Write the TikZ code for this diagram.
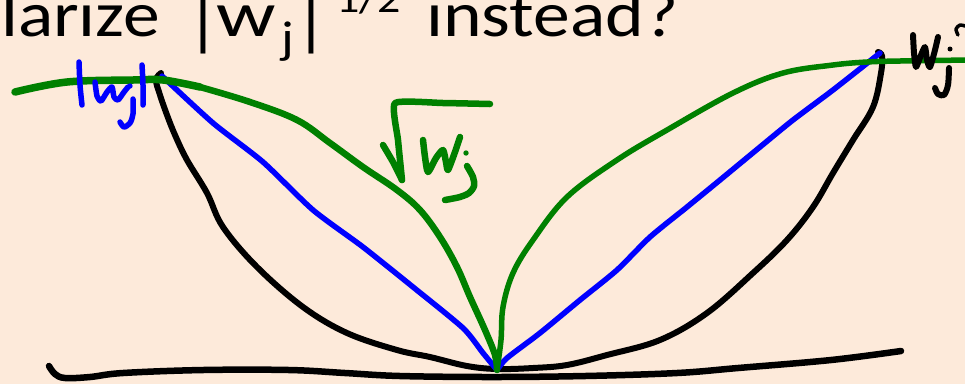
\documentclass[tikz,border=0pt]{standalone}
\usepackage{fontspec}
\setmainfont{Carlito}
\definecolor{bg}{RGB}{253,234,218}
\definecolor{pgreen}{RGB}{0,128,0}
\definecolor{pblue}{RGB}{0,0,255}
\begin{document}
\begin{tikzpicture}[x=1pt,y=-1pt,
  ink/.style={line cap=round,line join=round},
  title/.style={anchor=base west,inner sep=0pt,font=\fontsize{64}{70}\selectfont},
  small/.style={anchor=base west,inner sep=0pt,font=\fontsize{#1}{#1}\selectfont},
  blk/.style={ink,draw=black,line width=6pt},
  blu/.style={ink,draw=pblue,line width=5.5pt},
  grn/.style={ink,draw=pgreen,line width=6.5pt}]
\useasboundingbox (0,0) rectangle (965,384);
\fill[bg] (0,0) rectangle (965,384);
\clip (0,0) rectangle (965,384);
% title (cut at the top)
\node[title] (t1) at (1,36) {\scalebox{1.15}[1]{larize}};
\node[title] (t2) at (203,43) {\hbox to 0pt{\hss\scalebox{1.15}[1]{|}\hss}};
\node[title] (t3) at (216,36) {\scalebox{1.3}[1]{w}};
\node[small=46] (t4) at (281,53) {\scalebox{1.15}[1]{j}};
\node[title] (t5) at (311,43) {\hbox to 0pt{\hss\scalebox{1.15}[1]{|}\hss}};
\node[small=40] (t6) at (336,12) {\scalebox{1.15}[1]{1/2}};
\node[title] (t7) at (426,36) {\scalebox{1.15}[1]{instead?}};
% bottom axis line
\draw[blk,line width=6.5pt] plot[smooth,tension=0.6] coordinates {(49,366) (55,374) (65,378) (90,377) (123,373) (203,370) (289,370) (345,373) (400,376) (492,377) (585,376) (677,373) (738,368) (831,360) (901,351)};
% black w^2 curve
\draw[blk] plot[smooth,tension=0.6] coordinates {(161,73) (156,80) (160,95) (167,115) (175,135) (187,160) (207,193) (223,227) (257,267) (303,307) (347,333) (397,350) (430,357) (467,366) (497,369) (533,368) (567,365) (607,355) (660,340) (707,313) (753,273) (787,240) (813,207) (833,173) (853,140) (873,107) (881,73) (882,56) (878,52)};
% blue |w| lines
\draw[blu] plot[smooth,tension=0.4] coordinates {(162,76) (213,123) (263,162) (313,210) (363,247) (413,287) (463,328) (483,353) (497,370)};
\draw[blu] plot[smooth,tension=0.4] coordinates {(497,370) (507,358) (540,333) (580,300) (617,270) (650,237) (687,207) (720,180) (760,147) (793,120) (833,90) (880,53)};
% green sqrt curves
\draw[grn,line width=7.5pt] plot[smooth,tension=0.6] coordinates {(15,92) (67,82) (133,80) (163,80) (200,87)};
\draw[grn] plot[smooth,tension=0.6] coordinates {(200,87) (250,102) (297,120) (330,143) (363,167) (397,190) (420,210) (440,237) (457,267) (470,297) (485,330) (495,355) (497,370)};
\draw[grn,line width=5.5pt] plot[smooth,tension=0.6] coordinates {(497,370) (501,340) (503,307) (513,273) (533,240) (567,197) (617,160) (667,130) (733,93) (783,73) (833,65) (867,62) (900,61) (970,60)};
% label |w_j| (blue)
\draw[blu] plot[smooth] coordinates {(79,62) (80,85) (82,105)};
\draw[blu] plot[smooth,tension=0.4] coordinates {(95,82) (97,96) (101,101) (107,92) (112,87) (114,97) (118,100) (124,92) (128,87)};
\fill[pblue] (130,86) circle (2.7pt);
\draw[blu] plot[smooth] coordinates {(133,99) (133,114) (130,123) (124,127) (120,122)};
\draw[blu] plot[smooth] coordinates {(142,65) (143,85) (143,105)};
% label sqrt(w_j) (green)
\draw[grn] plot[smooth,tension=0.3] coordinates {(383,145) (393,162) (402,180)};
\draw[grn] plot[smooth,tension=0.3] coordinates {(402,180) (398,140) (395,103) (443,103) (490,104)};
\draw[grn] plot[smooth,tension=0.4] coordinates {(423,140) (425,157) (428,172) (436,158) (443,150) (446,162) (448,170) (455,152) (460,137)};
\fill[pgreen] (466,153) circle (2.7pt);
\draw[grn] plot[smooth] coordinates {(467,166) (473,177) (474,186) (469,193) (460,197) (445,200)};
% label w_j^2 (black)
\draw[blk] plot[smooth,tension=0.4] coordinates {(913,35) (914,53) (916,67) (921,55) (925,47) (927,60) (930,67) (935,50) (938,37)};
\fill[black] (950,49) circle (2.5pt);
\draw[blk] plot[smooth] coordinates {(949,68) (948,85) (944,95) (938,94) (935,88)};
\draw[blk,line width=3.5pt] plot[smooth] coordinates {(958,35) (956,29) (960,25) (965,26)};
\end{tikzpicture}
\end{document}
